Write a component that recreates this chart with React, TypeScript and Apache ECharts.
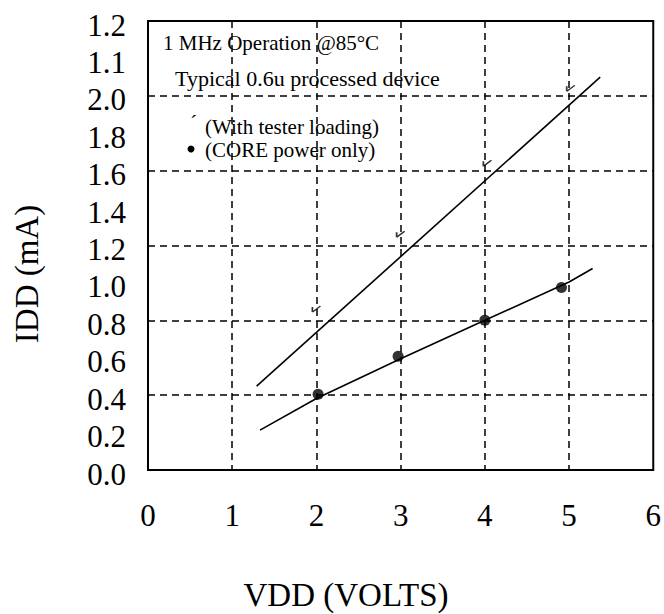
import React, { useEffect, useRef } from "react";
import * as echarts from "echarts";

const xTickLabels = ["0", "1", "2", "3", "4", "5", "6"];
const yTickLabels = ["0.0", "0.2", "0.4", "0.6", "0.8", "1.0", "1.2", "1.4", "1.6", "1.8", "2.0", "1.1", "1.2"];

const upperLine = [
  [1.29, 0.448],
  [5.37, 2.1],
];
const lowerLine = [
  [1.33, 0.213],
  [2, 0.382],
  [3, 0.595],
  [4, 0.8],
  [5, 1.005],
  [5.28, 1.077],
];
const corePoints = [
  [2.02, 0.405],
  [2.97, 0.608],
  [4.0, 0.8],
  [4.91, 0.976],
];
const testerPoints = [
  [2.0, 0.86],
  [3.0, 1.26],
  [4.03, 1.64],
  [5.02, 2.04],
];

const titleLines = ["1 MHz Operation @85\u00B0C", "Typical 0.6u processed device"];
const legendLabels = ["(With tester loading)", "(CORE power only)"];
const xTitle = "VDD (VOLTS)";
const yTitle = "IDD (mA)";

const FONT = '"Liberation Serif", "Times New Roman", serif';

export default function App() {
  const ref = useRef<HTMLDivElement>(null);
  useEffect(() => {
    if (!ref.current) return;
    const chart = echarts.init(ref.current, null, { renderer: "svg" });
    const dash = { color: "#000", width: 1.5, type: [7, 5] as any };
    const txt = (text: string, x: number, y: number, size: number, extra: any = {}) => ({
      type: "text",
      x,
      y,
      ...extra,
      style: {
        text,
        fontSize: size,
        fontFamily: FONT,
        fill: "#000",
        align: extra.align || "left",
        verticalAlign: "middle",
      },
    });
    chart.setOption({
      animation: false,
      backgroundColor: "#fff",
      grid: {
        left: 148,
        top: 21,
        width: 507,
        height: 449,
        show: true,
        borderColor: "#000",
        borderWidth: 2,
        backgroundColor: "transparent",
      },
      xAxis: {
        type: "value",
        min: 0,
        max: 6,
        interval: 1,
        axisLine: { show: false },
        axisTick: { show: false },
        axisLabel: {
          fontSize: 31,
          fontFamily: FONT,
          color: "#000",
          margin: 30,
          formatter: (v: number) => xTickLabels[Math.round(v)] ?? "",
        },
        splitLine: { show: true, lineStyle: dash, showMinLine: false, showMaxLine: false },
      },
      yAxis: [
        {
          type: "value",
          min: 0,
          max: 2.4,
          interval: 0.2,
          axisLine: { show: false },
          axisTick: { show: false },
          splitLine: { show: false },
          axisLabel: {
            fontSize: 31,
            fontFamily: FONT,
            color: "#000",
            margin: 22,
            formatter: (v: number) => "{a|" + (yTickLabels[Math.round(v / 0.2)] ?? "") + "}",
            rich: {
              a: {
                fontSize: 31,
                fontFamily: FONT,
                color: "#000",
                padding: [8, 0, 0, 0],
              },
            },
          },
        },
        {
          type: "value",
          min: 0,
          max: 2.4,
          interval: 0.4,
          position: "left",
          axisLine: { show: false },
          axisTick: { show: false },
          axisLabel: { show: false },
          splitLine: { show: true, lineStyle: dash, showMinLine: false, showMaxLine: false },
        },
      ],
      series: [
        {
          type: "line",
          data: upperLine,
          symbol: "none",
          lineStyle: { color: "#000", width: 1.6 },
          z: 3,
        },
        {
          type: "line",
          data: lowerLine,
          symbol: "none",
          lineStyle: { color: "#000", width: 1.6 },
          z: 3,
        },
        {
          type: "scatter",
          data: corePoints,
          symbol: "circle",
          symbolSize: 11,
          itemStyle: { color: "#000" },
          z: 4,
        },
        {
          type: "scatter",
          data: testerPoints,
          symbol: "path://M0,8 L8,2 M0,8 L0,3",
          symbolSize: [8, 6],
          itemStyle: { color: "none", borderColor: "#000", borderWidth: 1.5 },
          z: 4,
        },
      ],
      graphic: [
        txt(titleLines[0], 163, 43, 21),
        txt(titleLines[1], 175, 78, 22),
        txt("\u00B4", 190, 122, 22),
        txt(legendLabels[0], 205, 127, 21),
        { type: "circle", shape: { cx: 191, cy: 149, r: 3.5 }, style: { fill: "#000" } },
        txt(legendLabels[1], 205, 150, 21),
        txt(xTitle, 346, 595, 33, { align: "center" }),
        txt(yTitle, 27, 274, 33, { align: "center", rotation: Math.PI / 2 }),
      ],
    });
    return () => chart.dispose();
  }, []);
  return (
    <div
      ref={ref}
      style={{ position: "absolute", left: 0, top: 0, width: 664, height: 614 }}
    />
  );
}
